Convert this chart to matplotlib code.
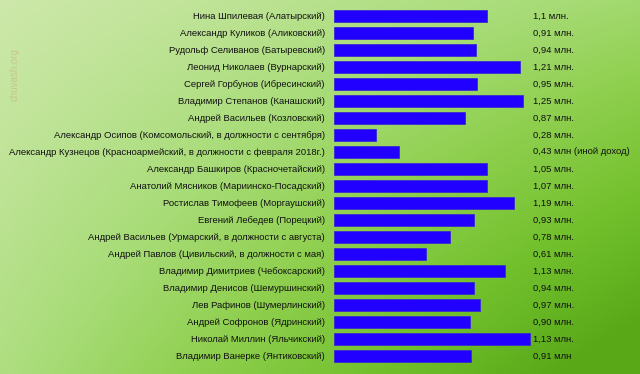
import numpy as np
import matplotlib
matplotlib.use('Agg')
import matplotlib.pyplot as plt
from matplotlib.colors import LinearSegmentedColormap

plt.rcParams['font.family'] = ['Liberation Sans', 'DejaVu Sans']

names = [
    'Нина Шпилевая (Алатырский)',
    'Александр Куликов (Аликовский)',
    'Рудольф Селиванов (Батыревский)',
    'Леонид Николаев (Вурнарский)',
    'Сергей Горбунов (Ибресинский)',
    'Владимир Степанов (Канашский)',
    'Андрей Васильев (Козловский)',
    'Александр Осипов (Комсомольский, в должности с сентября)',
    'Александр Кузнецов (Красноармейский, в должности с февраля 2018г.)',
    'Александр Башкиров (Красночетайский)',
    'Анатолий Мясников (Мариинско-Посадский)',
    'Ростислав Тимофеев (Моргаушский)',
    'Евгений Лебедев (Порецкий)',
    'Андрей Васильев (Урмарский, в должности с августа)',
    'Андрей Павлов (Цивильский, в должности с мая)',
    'Владимир Димитриев (Чебоксарский)',
    'Владимир Денисов (Шемуршинский)',
    'Лев Рафинов (Шумерлинский)',
    'Андрей Софронов (Ядринский)',
    'Николай Миллин (Яльчикский)',
    'Владимир Ванерке (Янтиковский)',
]

# bar lengths as drawn in the picture (mln)
bar_values = [1.01, 0.92, 0.94, 1.23, 0.95, 1.25, 0.87, 0.28, 0.43, 1.01, 1.01,
              1.19, 0.93, 0.77, 0.61, 1.13, 0.93, 0.97, 0.90, 1.30, 0.91]

value_labels = ['1,1 млн.', '0,91 млн.', '0,94 млн.', '1,21 млн.', '0,95 млн.',
                '1,25 млн.', '0,87 млн.', '0,28 млн.', '0,43 млн (иной доход)',
                '1,05 млн.', '1,07 млн.', '1,19 млн.', '0,93 млн.', '0,78 млн.',
                '0,61 млн.', '1,13 млн.', '0,94 млн.', '0,97 млн.', '0,90 млн.',
                '1,13 млн.', '0,91 млн']

W, H = 640, 374
fig = plt.figure(figsize=(W / 100, H / 100), dpi=100)

# green gradient background, pale top-left, dark bottom-right
bg = fig.add_axes([0, 0, 1, 1])
bg.set_axis_off()
xx, yy = np.meshgrid(np.linspace(0, 1, 320), np.linspace(0, 1, 187))
t = np.clip(0.35 * xx + 0.25 * yy + 0.5 * xx * yy, 0, 1)
cmap = LinearSegmentedColormap.from_list(
    'g', [(0, '#cde8aa'), (0.3, '#a8dc78'), (0.5, '#90d050'),
          (0.75, '#72c02c'), (1, '#58a818')])
bg.imshow(t, cmap=cmap, aspect='auto', extent=[0, 1, 0, 1], origin='upper')
bg.set_xlim(0, 1)
bg.set_ylim(0, 1)
bg.text(0.023, 0.80, 'chuvash.org', rotation=90, color='#c8b98a', alpha=0.7,
        fontsize=7, ha='center', va='center')

x0 = 334 / W
ax = fig.add_axes([x0, 0, 1 - x0, 1])
ax.patch.set_alpha(0)
n = len(names)
y = np.arange(n)
ax.barh(y, bar_values, height=0.7, color='#2200ff', edgecolor='#3a2cd0',
        linewidth=0.6)
ax.set_xlim(0, (W - 334) / 151)
ax.set_ylim(n - 1 + 1.06, -0.94)
ax.set_yticks(y)
ax.set_yticklabels(names, fontsize=6.8, color='#111111')
ax.tick_params(axis='y', length=0, pad=6.5)
ax.set_xticks([])
for s in ax.spines.values():
    s.set_visible(False)

for i, lab in enumerate(value_labels):
    ax.text((533 - 334) / (W - 334), i, lab, transform=ax.get_yaxis_transform(),
            fontsize=6.8, color='#111111', va='center', ha='left')

fig.savefig('out.png', dpi=100)
